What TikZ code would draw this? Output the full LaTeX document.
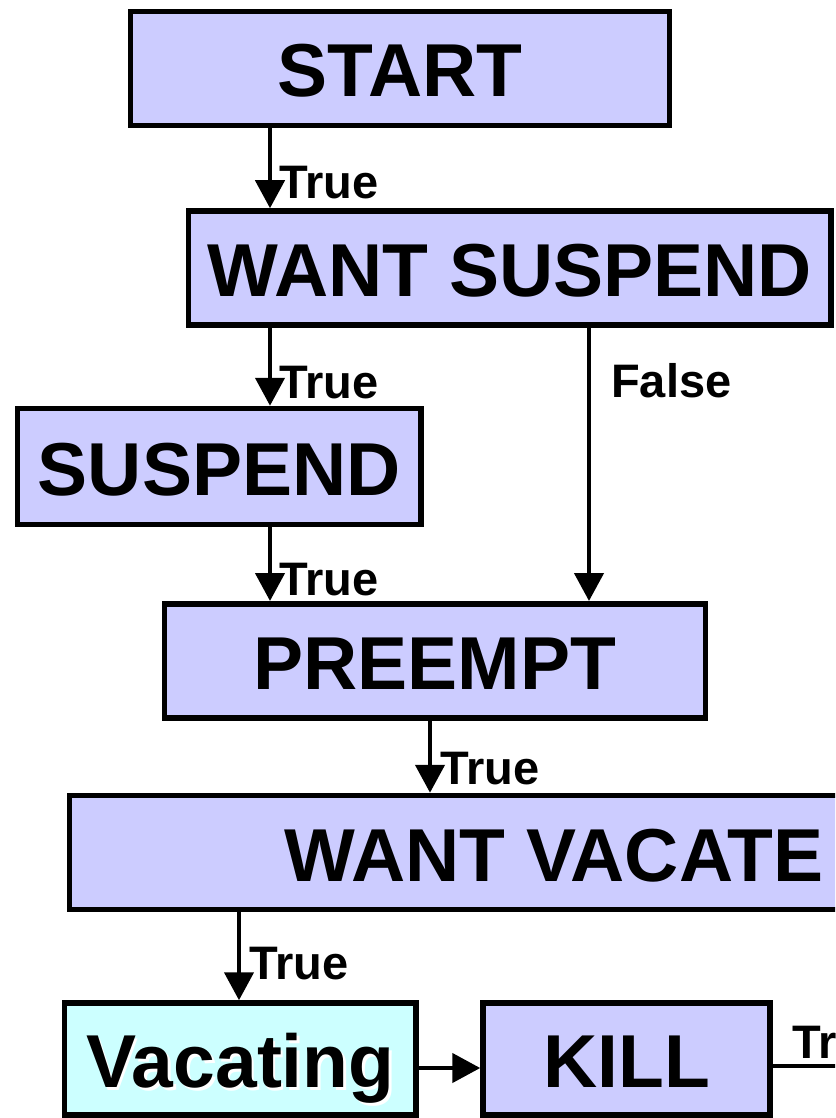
\documentclass[tikz,border=0pt]{standalone}
\usepackage{fontspec}
\setmainfont{Liberation Sans}
\usetikzlibrary{arrows.meta}
\definecolor{stateblue}{HTML}{CCCCFF}
\definecolor{statecyan}{HTML}{CCFFFF}
\begin{document}
\begin{tikzpicture}[x=1pt,y=-1pt,
  boxtext/.style={inner sep=0pt, font=\fontsize{75}{80}\selectfont\bfseries,
    text height=57pt, text depth=0pt},
  statebox/.style={boxtext, draw=black, line width=5.5pt, fill=stateblue,
    minimum height=114pt},
  flow/.style={line width=4.5pt, -{Triangle[length=28pt,width=29pt]}},
  cond/.style={font=\fontsize{47}{50}\selectfont\bfseries, inner sep=0pt,
    text height=36pt, text depth=0pt, anchor=west},
]
\clip (0,0) rectangle (835,1118);
\fill[white] (0,0) rectangle (835,1118);

% states
\node[statebox, minimum width=539pt] (start) at (400,68.5) {START};
\node[statebox, minimum width=642.5pt] (wsus) at (509.75,268) {WANT SUSPEND};
\node[statebox, minimum width=403.5pt, minimum height=116pt] (susp) at (219.25,466.5) {SUSPEND};
\node[statebox, minimum width=541pt] (preempt) at (435,660.75) {PREEMPT};
\node[statebox, minimum width=969pt] (wvac) at (554,852.5) {WANT VACATE};
\node[statebox, fill=statecyan, minimum width=351.5pt, minimum height=112pt] (vac) at (240.25,1059) {};
\node[boxtext, white] (vacshade) at ([shift={(2.5pt,-2.5pt)}]vac.center) {Vacating};
\node[boxtext, black] (vactext) at (vac.center) {Vacating};
\node[statebox, minimum width=287pt, minimum height=112pt] (kill) at (626.5,1059) {KILL};

% columns and rows the connectors run along
\coordinate (colA) at (270,0);
\coordinate (colB) at (589,0);
\coordinate (colC) at (430,0);
\coordinate (colD) at (239,0);
\coordinate (rowV) at (0,1068);
\coordinate (rowK) at (0,1066);
\coordinate (exit) at (880,1066);

% transitions
\draw[flow] (start.south -| colA) -- node[cond, pos=0.647, xshift=7pt] {True} (wsus.north -| colA);
\draw[flow] (wsus.south -| colA) -- node[cond, pos=0.67, xshift=7pt] {True} (susp.north -| colA);
\draw[flow] (wsus.south -| colB) -- node[cond, pos=0.191, xshift=20pt] {False} (preempt.north -| colB);
\draw[flow] (susp.south -| colA) -- node[cond, pos=0.688, xshift=7pt] {True} (preempt.north -| colA);
\draw[flow] (preempt.south -| colC) -- node[cond, pos=0.637, xshift=8pt] {True} (wvac.north -| colC);
\draw[flow] (wvac.south -| colD) -- node[cond, pos=0.554, xshift=8pt] {True} (vac.north -| colD);
\draw[flow] (vac.east |- rowV) -- (kill.west |- rowV);
\draw[line width=4.5pt] (kill.east |- rowK) -- node[cond, pos=0, anchor=base west, xshift=17pt, yshift=8pt] {True} (exit);
\end{tikzpicture}
\end{document}
